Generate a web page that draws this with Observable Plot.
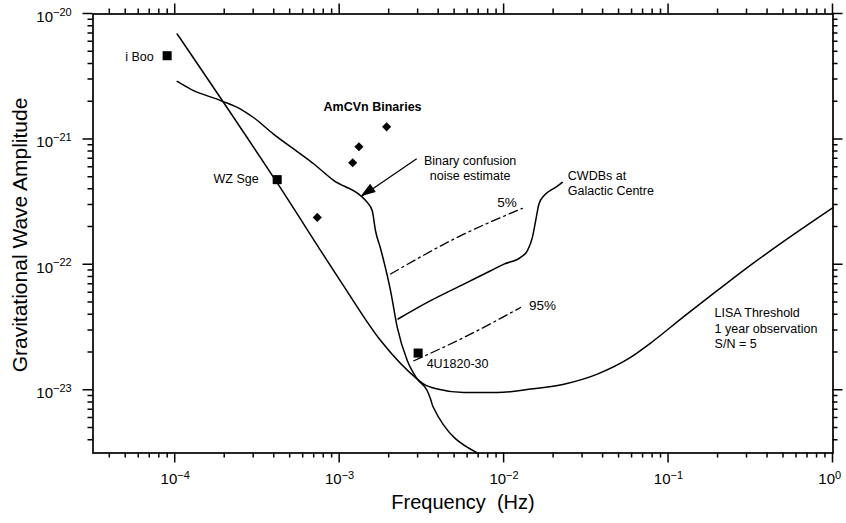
<!DOCTYPE html>
<html><head><meta charset="utf-8">
<script src="https://cdn.jsdelivr.net/npm/d3@7"></script>
<script src="https://cdn.jsdelivr.net/npm/@observablehq/plot@0.6"></script>
<style>body{margin:0;background:#fff}</style>
</head><body><div id="chart"></div>
<script>
// ---- data ----
const lisaFreq = [1.028e-4, 4.17e-4, 1.0e-3, 1.774e-3, 2.965e-3, 3.25e-3, 3.93e-3, 5.69e-3, 9.10e-3, 1.449e-2, 2.31e-2, 3.69e-2, 5.87e-2, 7.78e-2, 0.1242, 0.1982, 0.3155, 0.5035, 1.0];
const lisaAmp  = [6.93e-21, 4.5e-22, 7.6e-23, 2.49e-23, 1.227e-23, 1.119e-23, 1.023e-23, 9.59e-24, 9.59e-24, 1.023e-23, 1.119e-23, 1.346e-23, 1.828e-23, 2.38e-23, 3.88e-23, 6.25e-23, 9.95e-23, 1.545e-22, 2.86e-22];

const confFreq = [1.028e-4, 1.239e-4, 1.888e-4, 2.495e-4, 2.99e-4, 3.96e-4, 5.78e-4, 6.97e-4, 9.23e-4, 1.340e-3, 1.472e-3, 1.578e-3, 1.652e-3, 1.774e-3, 2.04e-3, 2.24e-3, 2.58e-3, 2.965e-3, 3.41e-3, 3.57e-3, 3.69e-3, 6.87e-3];
const confAmp  = [2.90e-21, 2.52e-21, 2.04e-21, 1.746e-21, 1.496e-21, 1.104e-21, 7.66e-22, 6.37e-22, 4.69e-22, 3.56e-22, 3.15e-22, 2.70e-22, 1.871e-22, 1.343e-22, 6.21e-23, 3.17e-23, 1.718e-23, 1.227e-23, 9.91e-24, 8.51e-24, 7.43e-24, 3.17e-24];

const cwdbFreq = [2.265e-3, 3.57e-3, 5.69e-3, 8.28e-3, 9.98e-3, 1.259e-2, 1.384e-2, 1.486e-2, 1.556e-2, 1.629e-2, 1.746e-2, 1.871e-2, 2.056e-2, 2.259e-2];
const cwdbAmp  = [3.70e-23, 5.18e-23, 7.03e-23, 8.97e-23, 1.014e-22, 1.146e-22, 1.294e-22, 1.656e-22, 2.249e-22, 3.055e-22, 3.556e-22, 3.846e-22, 4.14e-22, 4.54e-22];

const pct5Freq = [2.04e-3, 5.19e-3, 1.291e-2];
const pct5Amp  = [8.45e-23, 1.656e-22, 2.82e-22];
const pct95Freq = [2.825e-3, 5.69e-3, 1.259e-2];
const pct95Amp  = [1.718e-23, 2.636e-23, 4.57e-23];

const srcNames = ["i Boo", "WZ Sge", "4U1820-30"];
const srcFreq  = [8.93e-5, 4.17e-4, 3.0e-3];
const srcAmp   = [4.65e-21, 4.78e-22, 1.98e-23];

const amcvnFreq = [1.93e-3, 1.31e-3, 1.20e-3, 7.31e-4];
const amcvnAmp  = [1.26e-21, 8.75e-22, 6.52e-22, 2.39e-22];

const arrowFreq = [2.94e-3, 1.35e-3];   // tail, tip
const arrowAmp  = [7.01e-22, 3.49e-22];

const noteText = ["AmCVn Binaries", "Binary confusion\nnoise estimate", "CWDBs at\nGalactic Centre", "LISA Threshold\n1 year observation\nS/N = 5", "5%", "95%"];
const noteFreq = [1.585e-3, 6.21e-3, 2.44e-2, 0.1905, 1.04e-2, 1.415e-2];
const noteAmp  = [1.82e-21, 5.98e-22, 4.48e-22, 3.16e-23, 3.13e-22, 4.72e-23];

const xMajor = [1e-4, 1e-3, 1e-2, 1e-1, 1];
const xExp = ["\u22124", "\u22123", "\u22122", "\u22121", "0"];
const yMajor = [1e-23, 1e-22, 1e-21, 1e-20];
const yExp = ["\u221223", "\u221222", "\u221221", "\u221220"];
const minorMult = [2, 3, 4, 5, 6, 7, 8, 9];

// ---- build ----
const W = 846, H = 523, mL = 92.5, mR = 13.5, mT = 13.5, mB = 70.5;
const xLo = Math.pow(10, -4.5), xHi = 1;
const yLo = Math.pow(10, -23.5), yHi = 1e-20;
const xMinor = [1e-5, 1e-4, 1e-3, 1e-2, 1e-1].flatMap(d => minorMult.map(m => m * d)).filter(v => v > xLo * 1.001 && v < xHi * 0.999);
const yMinor = [1e-24, 1e-23, 1e-22, 1e-21].flatMap(d => minorMult.map(m => m * d)).filter(v => v > yLo * 1.001 && v < yHi * 0.999);

const pts = (fs, hs) => fs.map((f, i) => ({f, h: hs[i]}));
const lisa = pts(lisaFreq, lisaAmp);
const conf = pts(confFreq, confAmp);
const cwdb = pts(cwdbFreq, cwdbAmp);
const p5 = pts(pct5Freq, pct5Amp);
const p95 = pts(pct95Freq, pct95Amp);
const srcs = srcNames.map((n, i) => ({name: n, f: srcFreq[i], h: srcAmp[i]}));
const amcvn = pts(amcvnFreq, amcvnAmp);
const notes = noteText.map((t, i) => ({t, f: noteFreq[i], h: noteAmp[i]}));
const arrowData = [{f1: arrowFreq[0], h1: arrowAmp[0], f2: arrowFreq[1], h2: arrowAmp[1]}];

// outward ticks on all four sides, placed through the plot's scales (one path)
const tickMarks = (index, scales) => {
  const X = scales.x, Y = scales.y;
  const top = mT, bottom = H - mB, left = mL, right = W - mR;
  let d = "";
  for (const [vals, len] of [[xMajor, 10], [xMinor, 5]]) for (const v of vals) {
    const x = X(v);
    d += `M${x},${bottom}V${bottom + len}M${x},${top}V${top - len}`;
  }
  for (const [vals, len] of [[yMajor, 10], [yMinor, 5]]) for (const v of vals) {
    const y = Y(v);
    d += `M${left},${y}H${left - len}M${right},${y}H${right + len}`;
  }
  const g = d3.create("svg:g");
  g.append("path").attr("d", d).attr("fill", "none").attr("stroke", "#000").attr("stroke-width", 1.5);
  return g.node();
};

const arrowHead = (index, scales) => {
  const X = scales.x, Y = scales.y;
  const x1 = X(arrowFreq[0]), y1 = Y(arrowAmp[0]), x2 = X(arrowFreq[1]), y2 = Y(arrowAmp[1]);
  const dx = x2 - x1, dy = y2 - y1, len = Math.hypot(dx, dy);
  const ux = dx / len, uy = dy / len, L = 15, Wd = 10;
  const bx = x2 - ux * L, by = y2 - uy * L;
  const poly = [[x2, y2], [bx - uy * Wd / 2, by + ux * Wd / 2], [bx + uy * Wd / 2, by - ux * Wd / 2]];
  const g = d3.create("svg:g");
  g.append("polygon").attr("points", poly.map(p => p.join(",")).join(" ")).attr("fill", "black");
  return g.node();
};

const lineStyle = {x: "f", y: "h", stroke: "black", strokeWidth: 1.5, curve: "monotone-x"};

const chart = Plot.plot({
  width: W, height: H,
  marginLeft: mL, marginRight: mR, marginTop: mT, marginBottom: mB,
  style: {fontFamily: "'Liberation Sans', Arial, Helvetica, sans-serif", background: "white", color: "black", overflow: "visible"},
  x: {type: "log", domain: [xLo, xHi], axis: null, label: null},
  y: {type: "log", domain: [yLo, yHi], axis: null, label: null},
  marks: [
    Plot.frame({stroke: "black", strokeWidth: 1.7}),
    // tick labels
    Plot.text(xMajor, {x: d => d, text: () => "10", frameAnchor: "bottom", textAnchor: "end", dx: 2, dy: 30.5, fontSize: 15}),
    Plot.text(xMajor, {x: d => d, text: (d, i) => xExp[i], frameAnchor: "bottom", textAnchor: "start", dx: 2, dy: 25.5, fontSize: 11}),
    Plot.text(yMajor, {y: d => d, text: () => "10", frameAnchor: "left", textAnchor: "end", dx: -40, dy: 3, fontSize: 15}),
    Plot.text(yMajor, {y: d => d, text: (d, i) => yExp[i], frameAnchor: "left", textAnchor: "start", dx: -40, dy: -2, fontSize: 11}),
    // axis titles
    Plot.text(["Frequency\u00a0 (Hz)"], {text: d => d, frameAnchor: "bottom", textAnchor: "middle", dy: 56, fontSize: 20}),
    Plot.text(["Gravitational Wave Amplitude"], {text: d => d, frameAnchor: "left", textAnchor: "middle", rotate: -90, dx: -72.5, dy: 1.5, fontSize: 21}),
    // curves
    Plot.line(lisa, lineStyle),
    Plot.line(conf, lineStyle),
    Plot.line(cwdb, lineStyle),
    Plot.line(p5, {...lineStyle, strokeDasharray: "9,4,2,4", strokeWidth: 1.3}),
    Plot.line(p95, {...lineStyle, strokeDasharray: "9,4,2,4", strokeWidth: 1.3}),
    // sources
    Plot.dot(srcs, {x: "f", y: "h", symbol: "square", r: 5.1, fill: "black", stroke: null}),
    Plot.dot(amcvn, {x: "f", y: "h", symbol: "diamond2", r: 4.1, fill: "black", stroke: null}),
    Plot.text(srcs.slice(0, 1), {x: "f", y: "h", text: "name", textAnchor: "end", dx: -13.5, dy: 1.5, fontSize: 12.5}),
    Plot.text(srcs.slice(1, 2), {x: "f", y: "h", text: "name", textAnchor: "end", dx: -18.5, dy: -0.5, fontSize: 12.5}),
    Plot.text(srcs.slice(2, 3), {x: "f", y: "h", text: "name", textAnchor: "start", dx: 8.5, dy: 10.5, fontSize: 12.5}),
    // annotations
    Plot.text(notes.slice(0, 1), {x: "f", y: "h", text: "t", textAnchor: "middle", fontWeight: "bold", fontSize: 12.5}),
    Plot.text(notes.slice(1, 2), {x: "f", y: "h", text: "t", textAnchor: "middle", lineHeight: 1.2, fontSize: 12.5}),
    Plot.text(notes.slice(2, 3), {x: "f", y: "h", text: "t", textAnchor: "start", lineHeight: 1.2, fontSize: 12.5}),
    Plot.text(notes.slice(3, 4), {x: "f", y: "h", text: "t", textAnchor: "start", lineHeight: 1.22, fontSize: 12.5}),
    Plot.text(notes.slice(4, 5), {x: "f", y: "h", text: "t", textAnchor: "middle", fontSize: 13.5}),
    Plot.text(notes.slice(5, 6), {x: "f", y: "h", text: "t", textAnchor: "start", fontSize: 13.5}),
    // arrow
    Plot.link(arrowData, {x1: "f1", y1: "h1", x2: "f2", y2: "h2", stroke: "black", strokeWidth: 1.3}),
    arrowHead,
    tickMarks
  ]
});
document.getElementById("chart").appendChild(chart);
</script>
</body></html>
